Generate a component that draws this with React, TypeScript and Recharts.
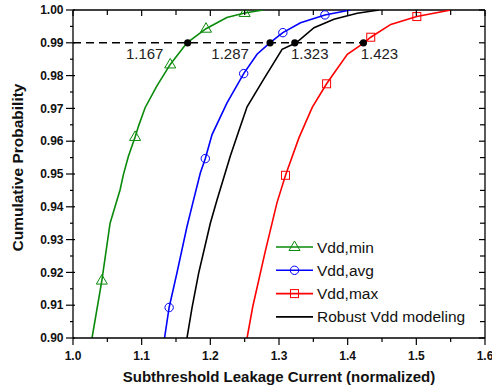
import { LineChart, Line, XAxis, YAxis, ReferenceLine, Scatter, Legend } from "recharts";

// Vdd,min (green)
const MIN_X = [1.0277, 1.042, 1.054, 1.0686, 1.0734, 1.0807, 1.0905, 1.0954, 1.105, 1.122, 1.1416, 1.166, 1.1937, 1.224, 1.25, 1.277];
const MIN_Y = [0.9, 0.9175, 0.935, 0.9452, 0.9498, 0.9554, 0.9613, 0.9646, 0.9702, 0.9768, 0.9834, 0.99, 0.9943, 0.9977, 0.9991, 1.0];
const MIN_MARKS = [1, 6, 10, 12, 14];

// Vdd,avg (blue)
const AVG_X = [1.1333, 1.14, 1.1513, 1.166, 1.1756, 1.1854, 1.1927, 1.2025, 1.2243, 1.2486, 1.268, 1.2866, 1.3056, 1.3314, 1.3669, 1.404];
const AVG_Y = [0.9, 0.9093, 0.9198, 0.934, 0.9421, 0.9503, 0.9547, 0.962, 0.9717, 0.9806, 0.9865, 0.99, 0.9931, 0.9961, 0.9985, 1.0];
const AVG_MARKS = [1, 6, 9, 12, 14];

// Vdd,max (red)
const MAX_X = [1.2535, 1.2618, 1.28, 1.297, 1.3095, 1.329, 1.3484, 1.3693, 1.3995, 1.4238, 1.4336, 1.4628, 1.5007, 1.5504];
const MAX_Y = [0.9, 0.9096, 0.9264, 0.9412, 0.9496, 0.961, 0.9703, 0.9775, 0.9865, 0.99, 0.9917, 0.9956, 0.998, 1.0];
const MAX_MARKS = [4, 7, 10, 12];

// Robust Vdd modeling (black)
const ROB_X = [1.166, 1.1733, 1.183, 1.2, 1.2097, 1.229, 1.2413, 1.2535, 1.278, 1.3045, 1.325, 1.351, 1.38, 1.414, 1.4456];
const ROB_Y = [0.9, 0.9092, 0.9198, 0.935, 0.9421, 0.9554, 0.963, 0.9705, 0.979, 0.988, 0.99, 0.9946, 0.9972, 0.999, 1.0];

// 99% crossings
const CROSS_X = [1.167, 1.287, 1.323, 1.423];
const CROSS_Y = 0.99;

const X_TICKS = [1.0, 1.05, 1.1, 1.15, 1.2, 1.25, 1.3, 1.35, 1.4, 1.45, 1.5, 1.55, 1.6];
const Y_TICKS = [0.9, 0.905, 0.91, 0.915, 0.92, 0.925, 0.93, 0.935, 0.94, 0.945, 0.95, 0.955, 0.96, 0.965, 0.97, 0.975, 0.98, 0.985, 0.99, 0.995, 1.0];

const SERIES_NAMES = ["Vdd,min", "Vdd,avg", "Vdd,max", "Robust Vdd modeling"];

const W = 492;
const H = 389;
const TOP = 10;
const LEFT = 73;
const RIGHT = 485;
const BOTTOM = 338;

const GREEN = "#0a8a0a";
const BLUE = "#0000ff";
const RED = "#ff0000";
const BLACK = "#000000";

const CROSS_DX = [-43, -40, 15, 16];
const FONT = "Arial, 'Liberation Sans', sans-serif";

const build = (xs: number[], ys: number[], marks: number[] = []) =>
  xs.map((x, i) => ({ x, y: ys[i], m: marks.includes(i) }));

const minData = build(MIN_X, MIN_Y, MIN_MARKS);
const avgData = build(AVG_X, AVG_Y, AVG_MARKS);
const maxData = build(MAX_X, MAX_Y, MAX_MARKS);
const robData = build(ROB_X, ROB_Y);
const crossData = CROSS_X.map((x) => ({ x, y: CROSS_Y }));

const isMajorX = (v: number) => Math.round(v * 100) % 10 === 0;
const isMajorY = (v: number) => Math.round(v * 1000) % 10 === 0;

function Marker({ kind, cx, cy, color }: { kind: string; cx: number; cy: number; color: string }) {
  if (kind === "triangle") {
    return (
      <polygon
        points={`${cx},${cy - 6} ${cx - 5.5},${cy + 3.5} ${cx + 5.5},${cy + 3.5}`}
        fill="none"
        stroke={color}
        strokeWidth={1}
      />
    );
  }
  if (kind === "circle") return <circle cx={cx} cy={cy} r={4.2} fill="none" stroke={color} strokeWidth={1} />;
  if (kind === "square")
    return <rect x={cx - 4} y={cy - 4} width={8} height={8} fill="none" stroke={color} strokeWidth={1} />;
  return null;
}

const makeDot = (kind: string, color: string) => (props: any) => {
  const { cx, cy, payload, index } = props;
  if (!payload || !payload.m) return <g key={`d-${kind}-${index}`} />;
  return (
    <g key={`d-${kind}-${index}`}>
      <Marker kind={kind} cx={cx} cy={cy} color={color} />
    </g>
  );
};

function XTick(props: any) {
  const { x, payload } = props;
  const v = payload.value;
  const major = isMajorX(v);
  return (
    <g>
      <line x1={x} x2={x} y1={BOTTOM} y2={BOTTOM + (major ? 7 : 4)} stroke="#000" strokeWidth={1.2} />
      <line x1={x} x2={x} y1={TOP} y2={TOP + (major ? 6 : 5)} stroke="#000" strokeWidth={1.2} />
      {major && (
        <text x={x} y={360} textAnchor="middle" fontSize={12} fontWeight="bold" fill="#111" fontFamily={FONT}>
          {v.toFixed(1)}
        </text>
      )}
    </g>
  );
}

function YTick(props: any) {
  const { y, payload } = props;
  const v = payload.value;
  const major = isMajorY(v);
  return (
    <g>
      <line x1={LEFT - (major ? 7 : 3)} x2={LEFT + (major ? 2 : 0)} y1={y} y2={y} stroke="#000" strokeWidth={1.2} />
      <line x1={RIGHT} x2={RIGHT - (major ? 6 : 5)} y1={y} y2={y} stroke="#000" strokeWidth={1.2} />
      {major && (
        <text x={63.5} y={y + 4.2} textAnchor="end" fontSize={12} fontWeight="bold" fill="#111" fontFamily={FONT}>
          {v.toFixed(2)}
        </text>
      )}
    </g>
  );
}

function CrossShape(props: any) {
  const { cx, cy, index } = props;
  return (
    <g>
      <circle cx={cx} cy={cy} r={3.6} fill="#000" />
      <text x={cx + CROSS_DX[index]} y={cy + 16} textAnchor="middle" fontSize={15} fill="#222" fontFamily={FONT}>
        {CROSS_X[index].toFixed(3)}
      </text>
    </g>
  );
}

const LEGEND_KIND: Record<string, string> = {
  "Vdd,min": "triangle",
  "Vdd,avg": "circle",
  "Vdd,max": "square",
  "Robust Vdd modeling": "none",
};

function LegendContent(props: any) {
  const items = (props.payload || [])
    .filter((p: any) => SERIES_NAMES.includes(p.value))
    .sort((a: any, b: any) => SERIES_NAMES.indexOf(a.value) - SERIES_NAMES.indexOf(b.value));
  return (
    <svg width={1} height={1} style={{ overflow: "visible", display: "block" }}>
      {items.map((p: any, i: number) => {
        const cy = 11 + i * 23.3;
        return (
          <g key={p.value}>
            <line x1={0} x2={37} y1={cy} y2={cy} stroke={p.color} strokeWidth={1.6} />
            <Marker kind={LEGEND_KIND[p.value]} cx={18.5} cy={cy} color={p.color} />
            <text x={41} y={cy + 5.5} fontSize={15.5} fill="#111" fontFamily={FONT}>
              {p.value}
            </text>
          </g>
        );
      })}
    </svg>
  );
}

export default function App() {
  return (
    <div style={{ position: "absolute", left: 0, top: 0, width: W, height: H, background: "#fff" }}>
      <LineChart width={W} height={H} margin={{ top: TOP, right: W - RIGHT, bottom: 0, left: 0 }}>
        <XAxis
          dataKey="x"
          type="number"
          domain={[1.0, 1.6]}
          ticks={X_TICKS}
          allowDataOverflow
          height={H - BOTTOM}
          tickLine={false}
          axisLine={{ stroke: "#000", strokeWidth: 1.3 }}
          tick={<XTick />}
          interval={0}
          label={() => (
            <text x={279} y={382} textAnchor="middle" fontSize={15} fontWeight="bold" fill="#111" fontFamily={FONT}>
              Subthreshold Leakage Current (normalized)
            </text>
          )}
        />
        <YAxis
          type="number"
          domain={[0.9, 1.0]}
          ticks={Y_TICKS}
          allowDataOverflow
          width={LEFT}
          tickLine={false}
          axisLine={{ stroke: "#000", strokeWidth: 1.3 }}
          tick={<YTick />}
          interval={0}
          label={() => (
            <text
              x={17}
              y={167.5}
              transform="rotate(-90 17 167.5)"
              textAnchor="middle"
              dominantBaseline="central"
              fontSize={15.5}
              fontWeight="bold"
              fill="#111"
              fontFamily={FONT}
            >
              Cumulative Probability
            </text>
          )}
        />
        <ReferenceLine y={1.0} stroke="#000" strokeWidth={1.3} />
        <ReferenceLine x={1.6} stroke="#000" strokeWidth={1.3} />
        <ReferenceLine
          segment={[
            { x: 1.0, y: CROSS_Y },
            { x: CROSS_X[3], y: CROSS_Y },
          ]}
          stroke="#000"
          strokeWidth={1.4}
          strokeDasharray="8 5"
        />
        <Line data={minData} dataKey="y" name="Vdd,min" stroke={GREEN} strokeWidth={1.6} dot={makeDot("triangle", GREEN)} activeDot={false} isAnimationActive={false} />
        <Line data={avgData} dataKey="y" name="Vdd,avg" stroke={BLUE} strokeWidth={1.6} dot={makeDot("circle", BLUE)} activeDot={false} isAnimationActive={false} />
        <Line data={maxData} dataKey="y" name="Vdd,max" stroke={RED} strokeWidth={1.6} dot={makeDot("square", RED)} activeDot={false} isAnimationActive={false} />
        <Line data={robData} dataKey="y" name="Robust Vdd modeling" stroke={BLACK} strokeWidth={1.6} dot={false} activeDot={false} isAnimationActive={false} />
        <Scatter data={crossData} dataKey="y" legendType="none" shape={<CrossShape />} isAnimationActive={false} />
        <Legend
          layout="horizontal"
          verticalAlign="middle"
          align="center"
          content={<LegendContent />}
          wrapperStyle={{ position: "absolute", left: 276, top: 236, width: 0, height: 0, overflow: "visible" }}
        />
      </LineChart>
    </div>
  );
}
